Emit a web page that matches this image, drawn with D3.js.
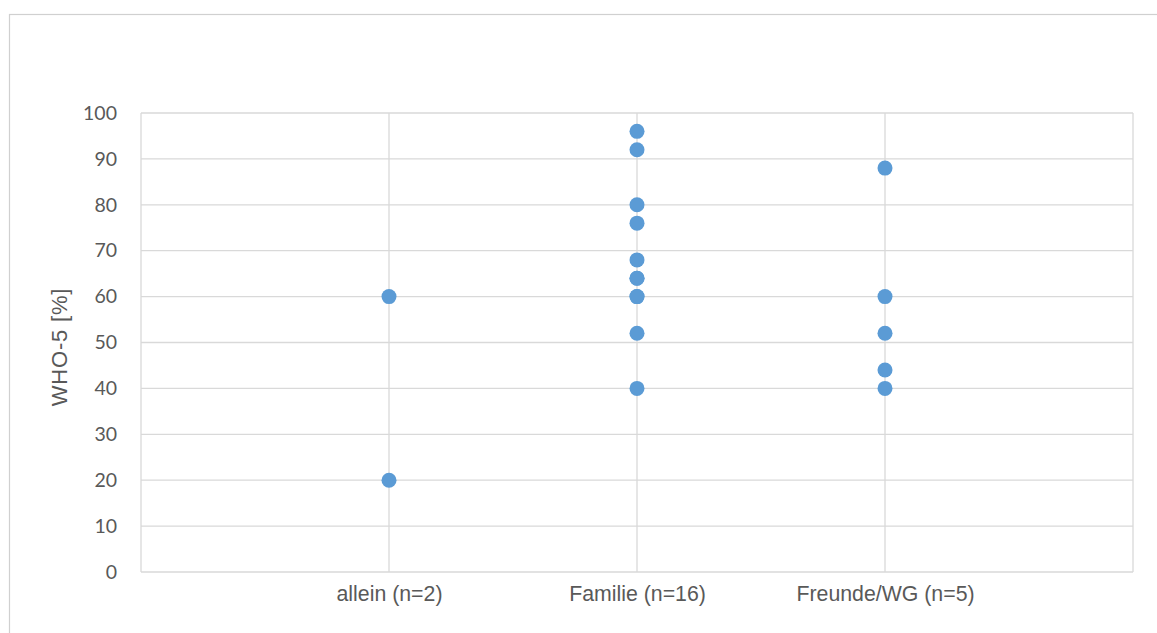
<!DOCTYPE html>
<html>
<head>
<meta charset="utf-8">
<script src="https://cdn.jsdelivr.net/npm/d3@7"></script>
<style>
  html, body { margin: 0; padding: 0; background: #fff; }
  svg { display: block; }
</style>
</head>
<body>
<svg id="chart" width="1157" height="633"></svg>
<script>
// WHO-5 well-being scores by living situation
const categories = ["allein (n=2)", "Familie (n=16)", "Freunde/WG (n=5)"];
const alleinValues = [60, 20];
const familieValues = [96, 92, 80, 76, 68, 64, 64, 60, 60, 52, 40];
const freundeValues = [88, 60, 52, 44, 40];
const yTicks = [0, 10, 20, 30, 40, 50, 60, 70, 80, 90, 100];
const yTitle = "WHO-5 [%]";

const seriesByCategory = [alleinValues, familieValues, freundeValues];

const svg = d3.select("#chart");
const W = 1157, H = 633;
const plot = { left: 141, right: 1133, top: 113, bottom: 572 };

// outer chart frame
svg.append("rect")
  .attr("x", 9.5).attr("y", 14.5)
  .attr("width", W + 10).attr("height", H + 10)
  .attr("fill", "#fff").attr("stroke", "#d0d0d0").attr("stroke-width", 1.2);

const x = d3.scaleLinear().domain([0, categories.length + 1]).range([plot.left, plot.right]);
const y = d3.scaleLinear().domain([0, 100]).range([plot.bottom, plot.top]);

const grid = svg.append("g");
// horizontal gridlines
grid.selectAll("line.h").data(yTicks).join("line")
  .attr("class", "h")
  .attr("x1", plot.left).attr("x2", plot.right)
  .attr("y1", d => y(d)).attr("y2", d => y(d))
  .attr("stroke", "#d9d9d9").attr("stroke-width", 1.3);
// vertical gridlines at each category and the plot edges
const vLines = d3.range(0, categories.length + 2);
grid.selectAll("line.v").data(vLines).join("line")
  .attr("class", "v")
  .attr("x1", d => x(d)).attr("x2", d => x(d))
  .attr("y1", plot.top).attr("y2", plot.bottom)
  .attr("stroke", "#d9d9d9").attr("stroke-width", 1.3);

// y axis labels
const yAxis = d3.axisLeft(y).tickValues(yTicks).tickSize(0).tickPadding(24);
const yg = svg.append("g").attr("transform", `translate(${plot.left},0)`).call(yAxis);
yg.select(".domain").remove();
yg.selectAll("text")
  .attr("font-family", "Lato, 'Open Sans', sans-serif")
  .attr("font-size", 19.5).attr("fill", "#595959");

// x axis labels
const xAxis = d3.axisBottom(x)
  .tickValues(categories.map((_, i) => i + 1))
  .tickFormat((d) => categories[d - 1])
  .tickSize(0).tickPadding(14);
const xg = svg.append("g").attr("transform", `translate(0,${plot.bottom})`).call(xAxis);
xg.select(".domain").remove();
xg.selectAll("text")
  .attr("font-family", "'Liberation Sans', Arial, sans-serif")
  .attr("font-size", 21.3).attr("fill", "#595959");

// y axis title
svg.append("text")
  .attr("transform", `translate(67,347) rotate(-90)`)
  .attr("text-anchor", "middle")
  .attr("font-family", "'Liberation Sans', Arial, sans-serif")
  .attr("font-size", 22).attr("letter-spacing", 0.8).attr("fill", "#595959")
  .text(yTitle);

// data points
const points = seriesByCategory.flatMap((vals, i) => vals.map(v => ({ cat: i + 1, v })));
svg.append("g").selectAll("circle").data(points).join("circle")
  .attr("cx", d => x(d.cat))
  .attr("cy", d => y(d.v))
  .attr("r", 7.5)
  .attr("fill", "#5b9bd5");
</script>
</body>
</html>
